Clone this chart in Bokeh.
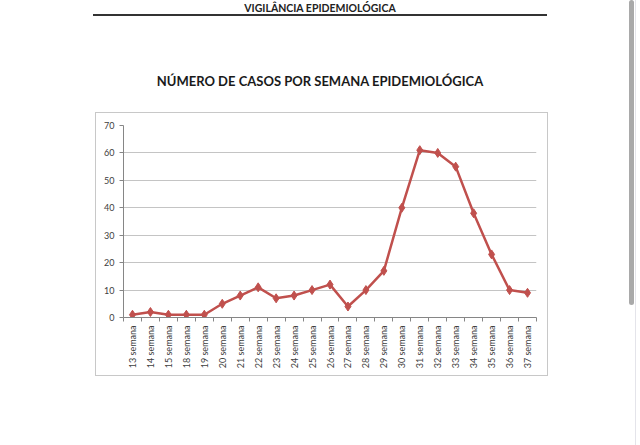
import math
from bokeh.plotting import figure
from bokeh.models import Range1d, LinearAxis, FixedTicker, Div
from bokeh.layouts import column, row
from bokeh.embed import file_html
from bokeh.resources import INLINE

# ---- data ----
weeks = ["13", "14", "15", "18", "19", "20", "21", "22", "23", "24", "25", "26",
         "27", "28", "29", "30", "31", "32", "33", "34", "35", "36", "37"]
cases = [1, 2, 1, 1, 1, 5, 8, 11, 7, 8, 10, 12, 4, 10, 17, 40, 61, 60, 55, 38, 23, 10, 9]
x_labels = [f"{w} semana" for w in weeks]
y_ticks = [0, 10, 20, 30, 40, 50, 60, 70]
header_text = "VIGILÂNCIA EPIDEMIOLÓGICA"
title_text = "NÚMERO DE CASOS POR SEMANA EPIDEMIOLÓGICA"

n = len(weeks)
xs = list(range(n))
FONT = "Lato"
RED = "#C0504D"
AXIS = "#868686"

# ---- chart (inside its light-grey box) ----
p = figure(width=451, height=262, output_backend="svg", toolbar_location=None,
           x_range=Range1d(-0.5, n - 0.5), y_range=Range1d(0, max(y_ticks)),
           x_axis_location=None, y_axis_location="left",
           min_border_left=27, min_border_right=11,
           min_border_top=12, min_border_bottom=58,
           background_fill_color="white", border_fill_color="white",
           outline_line_color=None, margin=(0, 0, 0, 96),
           styles={"outline": "1px solid #C8C8C8"})

p.xgrid.visible = False
p.ygrid.grid_line_color = "#C4C4C4"
p.ygrid.grid_line_width = 1
p.ygrid.ticker = FixedTicker(ticks=y_ticks)

ya = p.yaxis[0]
ya.ticker = FixedTicker(ticks=y_ticks)
ya.major_tick_out = 4
ya.major_tick_in = 0
ya.minor_tick_line_color = None
ya.axis_line_color = AXIS
ya.major_tick_line_color = AXIS
ya.major_label_text_font = FONT
ya.major_label_text_font_size = "9px"
ya.major_label_text_color = "#404040"
ya.major_label_standoff = 5

xa = LinearAxis(ticker=FixedTicker(ticks=xs, minor_ticks=[i - 0.5 for i in range(n + 1)]),
                major_label_overrides={i: lab for i, lab in zip(xs, x_labels)},
                major_label_orientation=math.pi / 2,
                major_label_text_font=FONT, major_label_text_font_size="9px",
                major_label_text_color="#404040", major_label_standoff=4,
                axis_line_color=AXIS, major_tick_line_color=None,
                major_tick_out=4, major_tick_in=0,
                minor_tick_line_color=AXIS, minor_tick_out=4, minor_tick_in=0)
p.add_layout(xa, "below")

p.line(xs, cases, line_color=RED, line_width=2.5)
p.scatter(xs, cases, marker="diamond", size=9, color=RED)

# ---- page heading ----
top = Div(text=(
    f'<div style="position:relative;width:629px;height:113px;font-family:Lato,sans-serif;">'
    f'<div style="position:absolute;left:93px;width:454px;top:2px;height:14px;'
    f'border-bottom:2px solid #333;text-align:center;font-weight:bold;font-size:10.5px;'
    f'line-height:13px;color:#222;">{header_text}</div>'
    f'<div style="position:absolute;left:0px;width:640px;top:72px;text-align:center;'
    f'font-weight:bold;font-size:13px;line-height:18px;color:#1a1a1a;">{title_text}</div>'
    f'</div>'), width=629, height=113, margin=0)

scroll = Div(text=(
    '<div style="position:relative;width:11px;height:445px;">'
    '<div style="position:absolute;left:0px;top:0px;width:5px;height:305px;'
    'background:#A9A9A9;border-radius:3px;"></div>'
    '<div style="position:absolute;left:6px;top:0px;width:1px;height:445px;'
    'background:#E4E4EA;"></div></div>'), width=11, height=445, margin=0)

layout = row(column(top, p, spacing=0, margin=0), scroll, spacing=0, margin=0)

open("out.html", "w").write(file_html(layout, INLINE))
